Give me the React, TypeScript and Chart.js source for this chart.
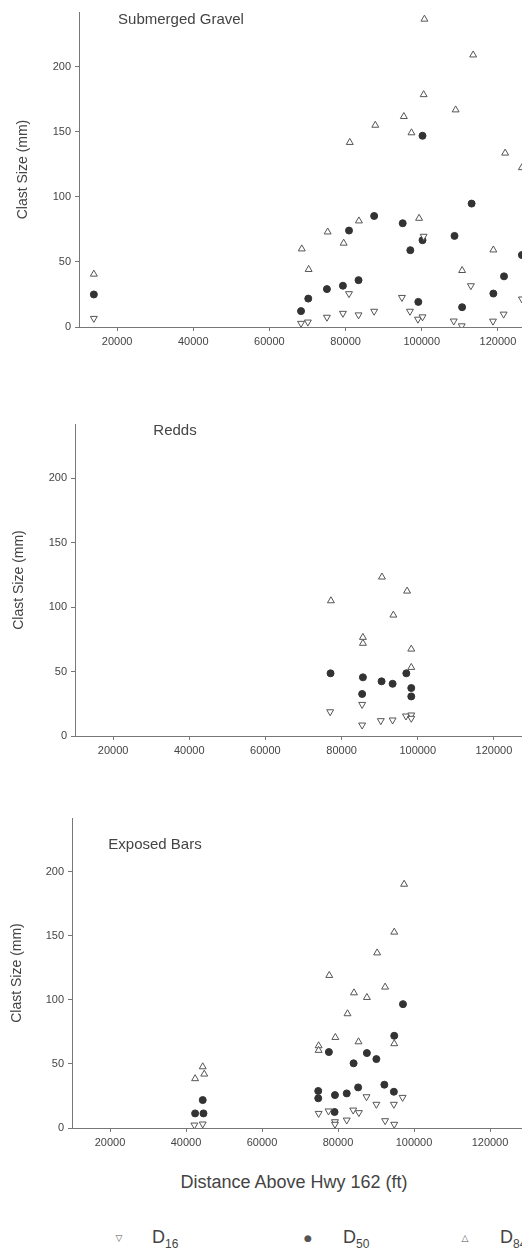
import React, { useEffect, useRef } from 'react';
import { Chart, registerables } from 'chart.js';
Chart.register(...registerables);

// ---- axis ticks ----
const xTicks = [20000, 40000, 60000, 80000, 100000, 120000];
const yTicks = [0, 50, 100, 150, 200];
const xMin = 10000;
const xMax = 130000;
const yMin = 0;
const yMax = 242;

// ---- Submerged Gravel ----
const gravelD16X = [13900, 68300, 70100, 75100, 79300, 80900, 83400, 87500, 94800, 96900, 99000, 100200, 100500, 108400, 110500, 112900, 118700, 121500, 126300];
const gravelD16Y = [6.6, 2.8, 3.8, 7.5, 10.5, 25.6, 9.3, 12.1, 22.7, 12.1, 6, 7.8, 69.7, 4.6, 0.9, 31.7, 4.5, 9.9, 21.5];
const gravelD50X = [13900, 68300, 70200, 75100, 79300, 80900, 83400, 87500, 95000, 97000, 99100, 100200, 100200, 108600, 110600, 113100, 118800, 121600, 126300];
const gravelD50Y = [25, 12.2, 21.8, 29.1, 31.7, 74.1, 36, 85.3, 79.7, 59, 19.3, 66.7, 146.9, 70, 15.2, 94.8, 25.7, 38.9, 55.3];
const gravelD84X = [13900, 68500, 70300, 75300, 79500, 81100, 83500, 87800, 95300, 97300, 99300, 100500, 100700, 108900, 110600, 113500, 118800, 121900, 126300];
const gravelD84Y = [40.6, 60, 44.2, 73, 64.4, 141.8, 81.5, 155, 161.7, 149.2, 83.5, 178.5, 236.5, 166.8, 43.4, 209, 59.2, 133.6, 122.4];

// ---- Redds ----
const reddsD16X = [77000, 85400, 85400, 90300, 93400, 96900, 98300, 98300];
const reddsD16Y = [18.8, 24.5, 8.5, 11.9, 12.4, 15.5, 16.3, 13.7];
const reddsD50X = [77100, 85600, 85400, 90500, 93400, 97000, 98300, 98300];
const reddsD50Y = [48.6, 45.5, 32.6, 42.4, 40.5, 48.6, 37.2, 30.7];
const reddsD84X = [77200, 85600, 85600, 90600, 93600, 97200, 98300, 98300];
const reddsD84Y = [104.9, 76.5, 71.9, 123.3, 93.8, 112.4, 67.4, 53.2];

// ---- Exposed Bars ----
const barsD16X = [42200, 44400, 74900, 77500, 79200, 79200, 82300, 84000, 85500, 87500, 90100, 92400, 94700, 94800, 97000];
const barsD16Y = [2.3, 3.1, 11.4, 13.3, 4.9, 2.9, 6.2, 14, 12, 24.4, 18.5, 5.7, 18.5, 2.9, 23.9];
const barsD50X = [42400, 44600, 44400, 74800, 74800, 77600, 79200, 79100, 82300, 84100, 85300, 87600, 90100, 92200, 94700, 94800, 97100];
const barsD50Y = [11.4, 11.4, 21.8, 28.9, 23.2, 59.3, 25.7, 12.5, 27, 50.5, 31.7, 58.5, 53.8, 33.8, 28.3, 72, 96.7];
const barsD84X = [42400, 44400, 44800, 74900, 74900, 77700, 79300, 82500, 84200, 85400, 87600, 90300, 92400, 94800, 94800, 97400];
const barsD84Y = [38.5, 47.8, 42.1, 64.2, 60.6, 119.1, 70.7, 89.2, 105.5, 67.3, 101.9, 136.7, 110, 152.9, 65.8, 190.3];

const FONT = "'Liberation Sans', Arial, Helvetica, sans-serif";
const TEXT = '#444';
const AXIS = '#777';
const MARK = '#555';

const pts = (xs: number[], ys: number[]) => xs.map((x, i) => ({ x, y: ys[i] }));

type PanelProps = {
  areaTop: number;
  areaBottom: number;
  areaLeft: number;
  areaRight: number;
  yTitlePad: number;
  d16x: number[]; d16y: number[];
  d50x: number[]; d50y: number[];
  d84x: number[]; d84y: number[];
};

const CANVAS_W = 560;
const PAD_TOP = 12;
const X_AXIS_H = 30;

function Panel(p: PanelProps) {
  const ref = useRef<HTMLCanvasElement | null>(null);
  const height = p.areaBottom - p.areaTop + PAD_TOP + X_AXIS_H;
  useEffect(() => {
    if (!ref.current) return;
    const chart = new Chart(ref.current, {
      type: 'scatter',
      data: {
        datasets: [
          {
            label: 'D16',
            data: pts(p.d16x, p.d16y),
            pointStyle: 'triangle',
            rotation: 180,
            pointRadius: 4,
            backgroundColor: '#fff',
            borderColor: MARK,
            borderWidth: 1,
          },
          {
            label: 'D50',
            data: pts(p.d50x, p.d50y),
            pointStyle: 'circle',
            pointRadius: 3.5,
            backgroundColor: '#333',
            borderColor: '#333',
            borderWidth: 1,
          },
          {
            label: 'D84',
            data: pts(p.d84x, p.d84y),
            pointStyle: 'triangle',
            pointRadius: 4,
            backgroundColor: '#fff',
            borderColor: MARK,
            borderWidth: 1,
          },
        ],
      },
      options: {
        responsive: false,
        animation: false,
        layout: { padding: { top: PAD_TOP, right: CANVAS_W - p.areaRight, left: 0, bottom: 0 } },
        plugins: { legend: { display: false }, tooltip: { enabled: false }, title: { display: false } },
        scales: {
          x: {
            type: 'linear',
            bounds: 'data',
            min: xMin,
            max: xMax,
            afterBuildTicks: (axis: any) => { axis.ticks = xTicks.map((v) => ({ value: v })); },
            afterFit: (s: any) => { s.height = X_AXIS_H; },
            grid: { display: true, drawOnChartArea: false, drawTicks: true, tickLength: 4, color: AXIS },
            border: { display: true, color: AXIS, width: 1 },
            ticks: {
              padding: 4,
              color: TEXT,
              font: { family: FONT, size: 11 },
              maxRotation: 0,
              autoSkip: false,
              callback: (v: any) => String(v),
            },
          },
          y: {
            type: 'linear',
            bounds: 'data',
            min: yMin,
            max: yMax,
            afterBuildTicks: (axis: any) => { axis.ticks = yTicks.map((v) => ({ value: v })); },
            afterFit: (s: any) => { s.width = p.areaLeft; },
            grid: { display: true, drawOnChartArea: false, drawTicks: true, tickLength: 4, color: AXIS },
            border: { display: true, color: AXIS, width: 1 },
            ticks: {
              padding: 4,
              color: TEXT,
              font: { family: FONT, size: 11 },
              autoSkip: false,
              callback: (v: any) => String(v),
            },
            title: {
              display: true,
              text: 'Clast Size (mm)',
              color: TEXT,
              font: { family: FONT, size: 14 },
              padding: { top: p.yTitlePad, bottom: 0 },
            },
          },
        },
      },
    } as any);
    return () => chart.destroy();
  }, []);
  return (
    <canvas
      ref={ref}
      width={CANVAS_W}
      height={height}
      style={{ position: 'absolute', left: 0, top: p.areaTop - PAD_TOP, width: CANVAS_W, height }}
    />
  );
}

const label = (text: string, cx: number, cy: number, size: number): React.ReactElement => (
  <div
    style={{
      position: 'absolute',
      left: cx,
      top: cy,
      transform: 'translate(-50%, -50%)',
      fontFamily: FONT,
      fontSize: size,
      color: TEXT,
      whiteSpace: 'nowrap',
      lineHeight: 1,
    }}
  >
    {text}
  </div>
);

const legendItems = [
  { mark: '\u25BD', sub: '16', markX: 119, textX: 152 },
  { mark: '\u25CF', sub: '50', markX: 308, textX: 343 },
  { mark: '\u25B3', sub: '84', markX: 465, textX: 500 },
];

export default function App() {
  return (
    <div
      style={{
        position: 'absolute',
        left: 0,
        top: 0,
        width: 522,
        height: 1251,
        overflow: 'hidden',
        background: '#fff',
      }}
    >
      <Panel areaTop={12} areaBottom={327} areaLeft={79} areaRight={536} yTitlePad={15}
        d16x={gravelD16X} d16y={gravelD16Y} d50x={gravelD50X} d50y={gravelD50Y} d84x={gravelD84X} d84y={gravelD84Y} />
      <Panel areaTop={424} areaBottom={736} areaLeft={75} areaRight={532} yTitlePad={11}
        d16x={reddsD16X} d16y={reddsD16Y} d50x={reddsD50X} d50y={reddsD50Y} d84x={reddsD84X} d84y={reddsD84Y} />
      <Panel areaTop={818} areaBottom={1128} areaLeft={72} areaRight={528} yTitlePad={9}
        d16x={barsD16X} d16y={barsD16Y} d50x={barsD50X} d50y={barsD50Y} d84x={barsD84X} d84y={barsD84Y} />

      {label('Submerged Gravel', 181, 18, 15)}
      {label('Redds', 175, 429, 15)}
      {label('Exposed Bars', 155, 843, 15)}
      {label('Distance Above Hwy 162 (ft)', 294, 1182, 18)}

      {legendItems.map((it) => (
        <React.Fragment key={it.sub}>
          <div
            style={{
              position: 'absolute',
              left: it.markX,
              top: 1238,
              transform: 'translate(-50%, -50%)',
              fontFamily: "'DejaVu Sans', sans-serif",
              fontSize: 9,
              color: MARK,
              lineHeight: 1,
            }}
          >
            {it.mark}
          </div>
          <div
            style={{
              position: 'absolute',
              left: it.textX,
              top: 1227,
              fontFamily: FONT,
              fontSize: 18,
              lineHeight: '20px',
              color: TEXT,
              whiteSpace: 'nowrap',
            }}
          >
            D<span style={{ fontSize: 12, verticalAlign: '-5px' }}>{it.sub}</span>
          </div>
        </React.Fragment>
      ))}
    </div>
  );
}
